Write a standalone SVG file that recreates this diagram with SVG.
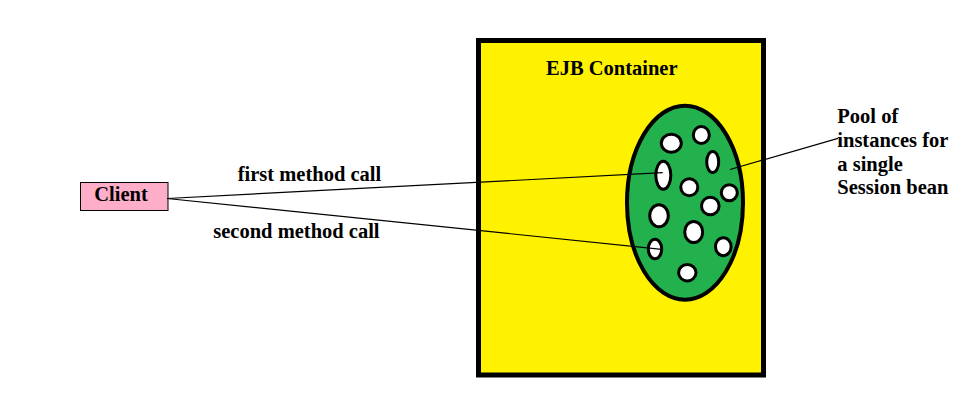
<svg xmlns="http://www.w3.org/2000/svg" width="970" height="410" viewBox="0 0 970 410">
<style>
.t{font-family:"Liberation Serif","Times New Roman",serif;font-weight:bold;font-size:20.5px;fill:#000}
.inst{fill:#fff;stroke:#000;stroke-width:3}
.conn{stroke:#000;stroke-width:1.2;fill:none}
</style>
<rect x="0" y="0" width="970" height="410" fill="#fff"/>
<g id="container">
<rect x="478.5" y="40.5" width="285" height="334.5" fill="#FFF200" stroke="#000" stroke-width="5"/>
<text class="t" x="546" y="75">EJB Container</text>
</g>
<g id="pool">
<ellipse cx="685" cy="202.7" rx="58" ry="97" fill="#22B14C" stroke="#000" stroke-width="4"/>
<ellipse class="inst" cx="671.3" cy="143.3" rx="10" ry="9"/>
<ellipse class="inst" cx="701.3" cy="135" rx="8" ry="8.5"/>
<ellipse class="inst" cx="712.7" cy="162" rx="6" ry="10.5"/>
<ellipse class="inst" cx="663.3" cy="175.3" rx="7.5" ry="14"/>
<ellipse class="inst" cx="689.3" cy="187.3" rx="8.5" ry="8.5"/>
<ellipse class="inst" cx="729.3" cy="192.7" rx="8" ry="8"/>
<ellipse class="inst" cx="710.3" cy="206" rx="8.8" ry="8.8"/>
<ellipse class="inst" cx="659" cy="215.7" rx="9.3" ry="11"/>
<ellipse class="inst" cx="693.7" cy="232" rx="9" ry="10.5"/>
<ellipse class="inst" cx="655" cy="249" rx="6.7" ry="9.8"/>
<ellipse class="inst" cx="723.3" cy="246.7" rx="7.8" ry="9"/>
<ellipse class="inst" cx="687.3" cy="272.7" rx="8.7" ry="8.2"/>
</g>
<g id="client">
<rect x="80.5" y="182.5" width="87.5" height="28" fill="#FFAEC9" stroke="#000" stroke-width="1"/>
<text class="t" x="94.3" y="201">Client</text>
</g>
<g id="pool-label">
<text class="t" x="837.3" y="122.7">Pool of</text>
<text class="t" x="837.3" y="146.7">instances for</text>
<text class="t" x="837.3" y="170.7">a single</text>
<text class="t" x="837.3" y="194.3">Session bean</text>
</g>
<g id="connectors">
<line class="conn" x1="167" y1="198.5" x2="662.7" y2="172.7"/>
<line class="conn" x1="167" y1="198.5" x2="661.7" y2="249.3"/>
<line class="conn" x1="730" y1="169.5" x2="838" y2="138.3"/>
<text class="t" x="237.7" y="180.7">first method call</text>
<text class="t" x="213.3" y="238.3">second method call</text>
</g>
</svg>
